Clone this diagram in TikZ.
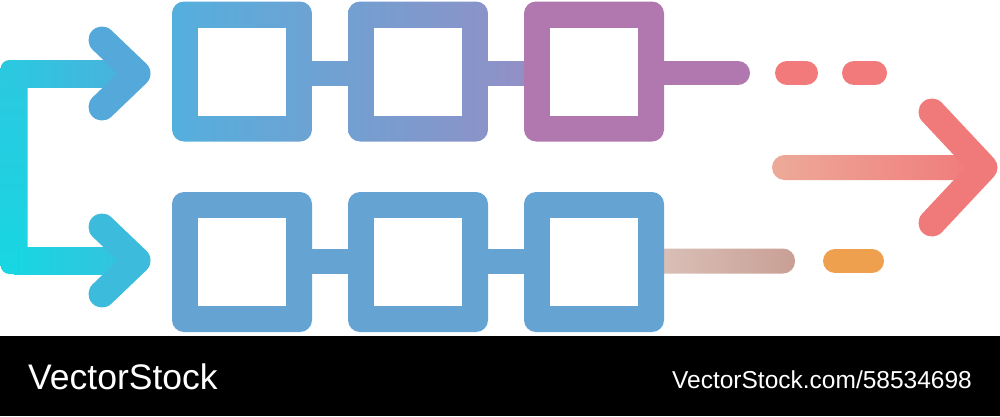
\documentclass[tikz,border=0pt]{standalone}
\usepackage{fontspec}
\setmainfont{Liberation Sans}
\usepackage{tikz}

\definecolor{brcyan}{HTML}{18D6E2}
\definecolor{brmid}{HTML}{2CC8E0}
\definecolor{brtop}{HTML}{4EAEDB}
\definecolor{brtoptip}{HTML}{54A8DA}
\definecolor{brbot}{HTML}{38C0DE}
\definecolor{brbottip}{HTML}{3DBBDD}
\definecolor{rowblue}{HTML}{54AFDD}
\definecolor{rowviolet}{HTML}{9190C6}
\definecolor{rowpurple}{HTML}{B078AE}
\definecolor{lowblue}{HTML}{64A3D2}
\definecolor{dashpink}{HTML}{F27A7A}
\definecolor{tanlight}{HTML}{DCC5BD}
\definecolor{tandark}{HTML}{C99F95}
\definecolor{dashorange}{HTML}{EFA04E}
\definecolor{arrowpeach}{HTML}{EDAA98}
\definecolor{arrowred}{HTML}{F07A7A}

\colorlet{g1}{rowviolet!40!rowblue}
\colorlet{g2}{rowviolet!51!rowblue}
\colorlet{g3}{rowviolet!90!rowblue}

\begin{document}
\begin{tikzpicture}[x=1pt, y=-1pt,
		slot/.style={rectangle, minimum size=140pt, inner sep=0pt, rounded corners=12pt},
		hole/.style={rectangle, fill=white, minimum size=88pt, inner sep=0pt},
		link/.style={line width=24pt},
		pen/.style={line width=27pt, line cap=round, line join=round},
		dashpart/.style={line width=24pt, line cap=round}]
		\useasboundingbox (0,0) rectangle (1000,416);
		
		% Coordinates
		\coordinate (A_top) at (137,73.5);
		\coordinate (A_bot) at (137,260.5);
		\coordinate (H_1) at (102,40);
		\coordinate (H_2) at (102,107);
		\coordinate (H_3) at (102,227);
		\coordinate (H_4) at (102,294);
		
		\coordinate (T_end) at (738,73);
		\coordinate (D_1a) at (787,73);
		\coordinate (D_1b) at (806,73);
		\coordinate (D_2a) at (854,73);
		\coordinate (D_2b) at (875,73);
		
		\coordinate (D_3a) at (835,261);
		\coordinate (D_3b) at (872,261);
		
		\coordinate (F_tip) at (984,167.5);
		\coordinate (F_1) at (932,112);
		\coordinate (F_2) at (932,223);
		
		% Bracket arrow
		\shade[rounded corners=9pt, top color=brmid, bottom color=brcyan] (0.5,60) rectangle (27.5,274);
		\shade[left color=brmid, right color=brtop] (14,60) rectangle (A_top |- 0,87);
		\shade[left color=brcyan, right color=brbot] (14,247) rectangle (A_bot |- 0,274);
		\draw[pen, brtoptip] (H_1) -- (A_top) -- (H_2);
		\draw[pen, brbottip] (H_3) -- (A_bot) -- (H_4);
		
		% Top row
		\node[slot, left color=rowblue, right color=g1] (t1) at (242,71.5) {};
		\node[slot, left color=g2, right color=g3] (t2) at (418,71.5) {};
		\node[slot, fill=rowpurple] (t3) at (594,71.5) {};
		\node[hole] (t1i) at (t1) {};
		\node[hole] (t2i) at (t2) {};
		\node[hole] (t3i) at (t3) {};
		\shade[left color=g1, right color=g2] ([yshift=10.5pt]t1.east) rectangle ([yshift=-13.5pt]t2.west);
		\shade[left color=g3, right color=rowviolet] ([yshift=10.5pt]t2.east) rectangle ([yshift=-13.5pt]t3.west);
		\draw[link, line cap=round, rowpurple] ([xshift=-12pt]t3.east |- T_end) -- (T_end);
		\draw[dashpart, dashpink] (D_1a) -- (D_1b);
		\draw[dashpart, dashpink] (D_2a) -- (D_2b);
		
		% Bottom row
		\shade[rounded corners=12pt, left color=tanlight, right color=tandark] (640,248.5) rectangle (795,273.5);
		\node[slot, fill=lowblue] (b1) at (242,262) {};
		\node[slot, fill=lowblue] (b2) at (418,262) {};
		\node[slot, fill=lowblue] (b3) at (594,262) {};
		\node[hole] (b1i) at (b1) {};
		\node[hole] (b2i) at (b2) {};
		\node[hole] (b3i) at (b3) {};
		\fill[lowblue] ([yshift=13.5pt]b1.east) rectangle ([yshift=-11.5pt]b2.west);
		\fill[lowblue] ([yshift=13.5pt]b2.east) rectangle ([yshift=-11.5pt]b3.west);
		\draw[dashpart, dashorange] (D_3a) -- (D_3b);
		
		% Big arrow
		\shade[rounded corners=12.5pt, left color=arrowpeach, right color=arrowred] (772,155) rectangle (978,180);
		\draw[pen, arrowred] (F_1) -- (F_tip) -- (F_2);
		
		% Footer bar
		\fill[black] (0,336) rectangle (1000,416);
		\node[anchor=base west, inner sep=0pt, text=white, font=\fontsize{35.5}{40}\selectfont] (brand) at (28,389) {VectorStock};
		\node[anchor=base east, inner sep=0pt, text=white, font=\fontsize{24.5}{28}\selectfont] (ref) at (972,388) {VectorStock.com/58534698};
	\end{tikzpicture}
\end{document}
